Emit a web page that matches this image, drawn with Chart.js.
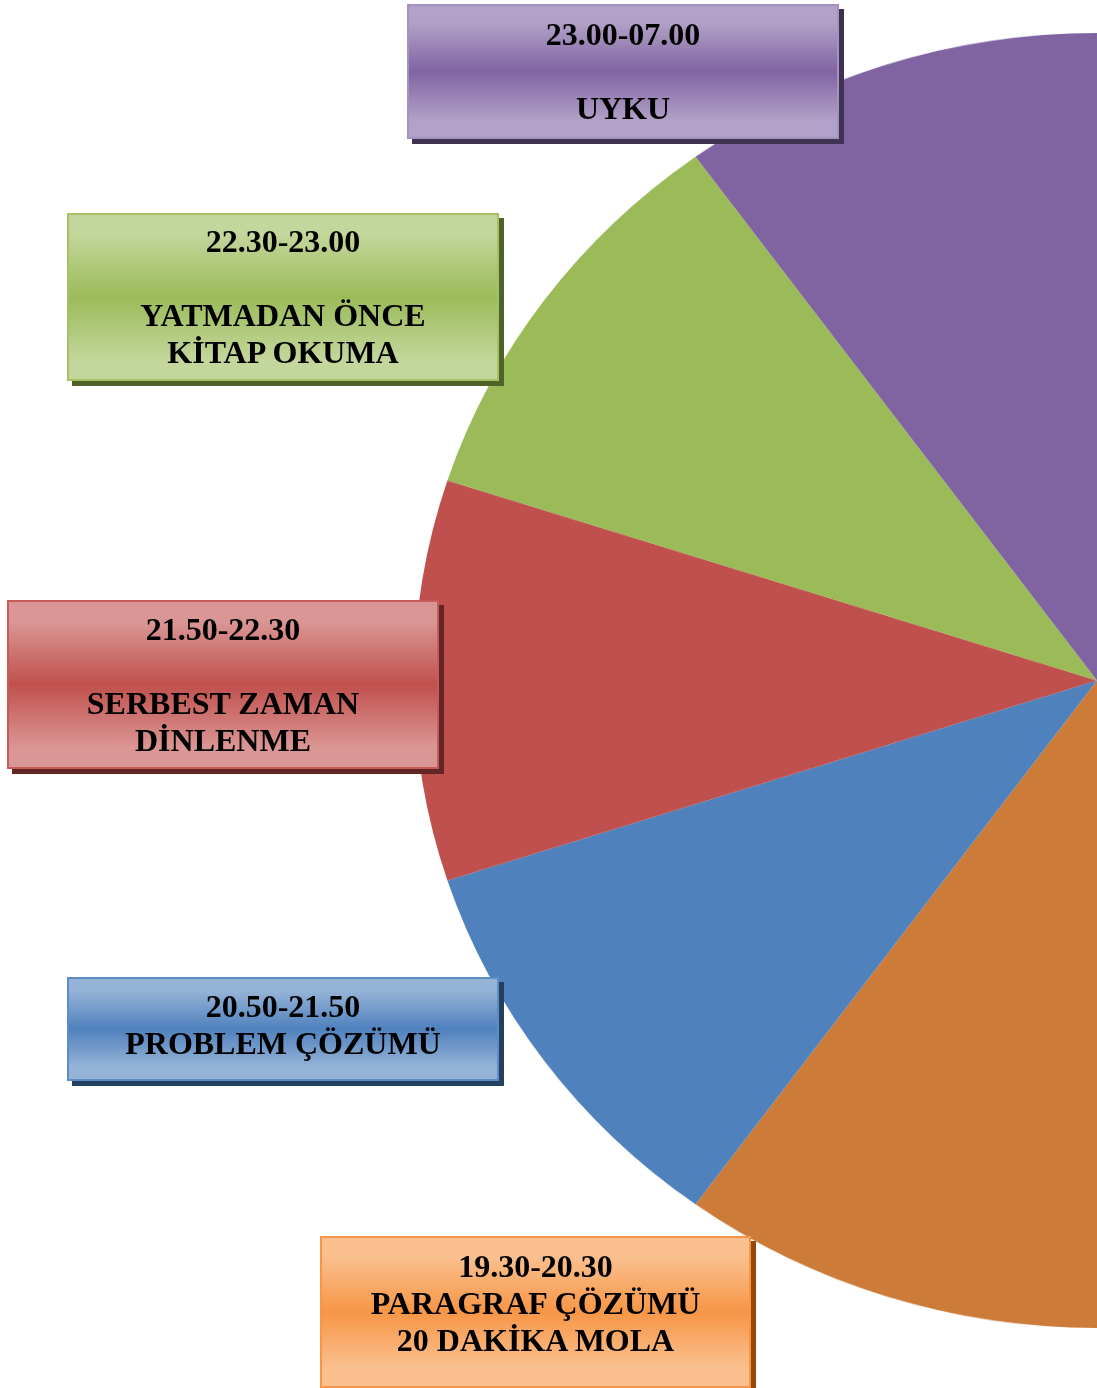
<!DOCTYPE html>
<html>
<head>
<meta charset="utf-8">
<script src="https://cdn.jsdelivr.net/npm/chart.js@4/dist/chart.umd.min.js"></script>
<style>
  html, body { margin:0; padding:0; background:#fff; }
  body { width:1097px; height:1388px; position:relative; overflow:hidden; }
  #pieWrap { position:absolute; left:414px; top:33px; width:683px; height:1366px;
             transform:scaleY(0.948); transform-origin:0 0; }
  .lbl { position:absolute; box-sizing:border-box; border:2px solid;
         font-family:"Liberation Serif","Times New Roman",serif; font-weight:bold;
         font-size:32px; line-height:37px; color:#000; text-align:center;
         display:flex; flex-direction:column; justify-content:center; z-index:2; }
  .lbl div { white-space:pre; min-height:37px; }
</style>
</head>
<body>
<div id="pieWrap"><canvas id="c"></canvas></div>
<script>
// ---- data (slices in drawing order: bottom -> left -> top) ----
const times = ["19.30-20.30", "20.50-21.50", "21.50-22.30", "22.30-23.00", "23.00-07.00"];
const activities = [
  ["PARAGRAF ÇÖZÜMÜ", "20 DAKİKA MOLA"],
  ["PROBLEM ÇÖZÜMÜ"],
  ["", "SERBEST ZAMAN", "DİNLENME"],
  ["", "YATMADAN ÖNCE", "KİTAP OKUMA"],
  ["", "UYKU"]
];
const sliceValues = [1, 1, 1, 1, 1];

// ---- styles ----
const sliceColors = ["#CC7B38", "#4F81BD", "#C0504D", "#9BBB59", "#8064A2"];
const boxStyle = [
  {light:"#FAC090", mid:"#F79646", border:"#F79646", shadow:"#984807", x:320, y:1236, w:431, h:152, pb:17},
  {light:"#95B3D7", mid:"#4F81BD", border:"#5E8CC4", shadow:"#244061", x:67,  y:977,  w:432, h:104, pb:8},
  {light:"#DA9694", mid:"#C0504D", border:"#C65B58", shadow:"#632523", x:7,   y:600,  w:432, h:169, pb:0},
  {light:"#C3D69B", mid:"#9BBB59", border:"#A4C165", shadow:"#4F6228", x:67,  y:213,  w:432, h:168, pb:0},
  {light:"#B3A2C7", mid:"#8064A2", border:"#A391C0", shadow:"#3F3151", x:407, y:4,    w:432, h:135, pb:0}
];

new Chart(document.getElementById('c'), {
  type: 'pie',
  data: {
    labels: times,
    datasets: [{
      data: sliceValues,
      backgroundColor: sliceColors,
      borderWidth: 0
    }]
  },
  options: {
    responsive: true,
    maintainAspectRatio: false,
    animation: false,
    rotation: 180,
    circumference: 180,
    layout: { padding: 0 },
    plugins: { legend: { display: false }, tooltip: { enabled: false } }
  }
});

// ---- label boxes ----
times.forEach((t, i) => {
  const s = boxStyle[i];
  const box = document.createElement('div');
  box.className = 'lbl';
  Object.assign(box.style, {
    left: s.x + 'px', top: s.y + 'px', width: s.w + 'px', height: s.h + 'px',
    paddingBottom: s.pb + 'px',
    borderColor: s.border,
    background: `linear-gradient(to bottom, ${s.light} 0%, ${s.light} 12%, ${s.mid} 50%, ${s.light} 88%, ${s.light} 100%)`,
    boxShadow: `5px 5px 0 ${s.shadow}`
  });
  [t, ...activities[i]].forEach(line => {
    const d = document.createElement('div');
    d.textContent = line;
    box.appendChild(d);
  });
  document.body.appendChild(box);
});
</script>
</body>
</html>
